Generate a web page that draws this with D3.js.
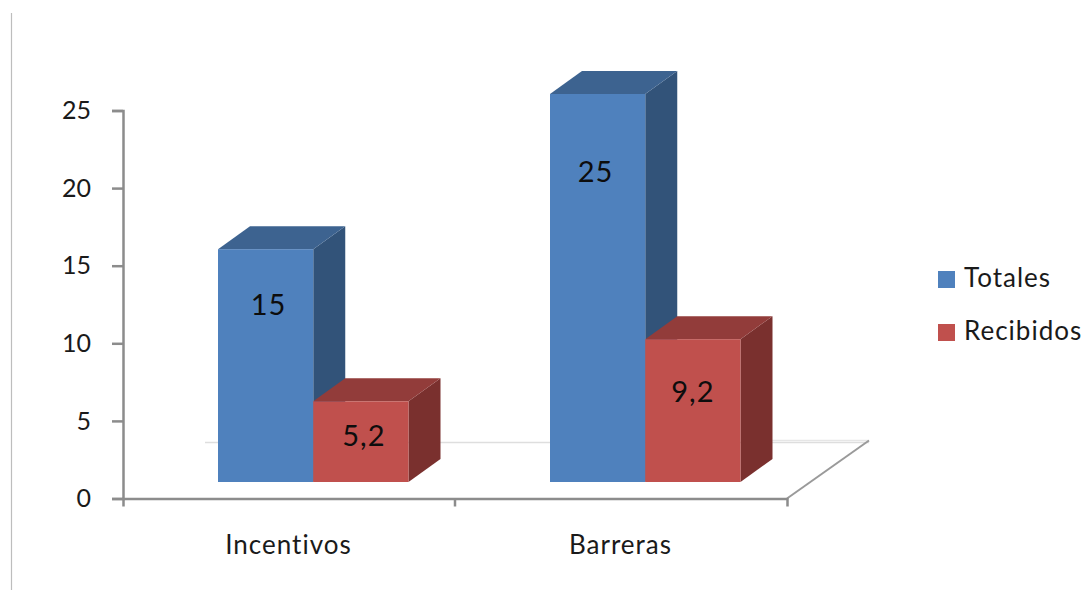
<!DOCTYPE html>
<html>
<head>
<meta charset="utf-8">
<script src="https://cdnjs.cloudflare.com/ajax/libs/d3/7.8.5/d3.min.js"></script>
<style>
  html, body { margin: 0; padding: 0; background: #fff; }
  svg { display: block; }
  text { font-family: Lato, "Open Sans", sans-serif; fill: #1a1a1a; }
  .domain, .tick line { stroke: #8c8c8c; }
</style>
</head>
<body>
<div id="chart"></div>
<script>
const categories = ["Incentivos", "Barreras"];
const seriesNames = ["Totales", "Recibidos"];
const totales = [15, 25];
const recibidos = [5.2, 9.2];
const valueLabels = [["15", "25"], ["5,2", "9,2"]];
const yTicks = [0, 5, 10, 15, 20, 25];

const width = 1084, height = 590;

// front, top and side shades for each series
const fills = [
  { front: "#4f81bd", top: "#3d6390", side: "#325379" },
  { front: "#c0504d", top: "#923c3a", side: "#7a302e" }
];

// oblique projection used for the 3D look
const depthX = 32, depthY = -23;
const baseLift = 16.5;

const svg = d3.select("#chart").append("svg")
  .attr("width", width)
  .attr("height", height);

const x = d3.scaleBand().domain(categories).range([123, 787]);
const y = d3.scaleLinear().domain([0, 25]).range([498.5, 110.5]);
const inner = d3.scaleBand().domain(seriesNames).range([95, 285.5]);

// page rule on the left
svg.append("line")
  .attr("x1", 11.5).attr("x2", 11.5)
  .attr("y1", 13).attr("y2", height)
  .attr("stroke", "#bdbdbd").attr("stroke-width", 1.2);

// floor of the 3D plot
const floorRight = x.range()[1], floorY = y(0);
const backLeft = x.range()[0] + 82, backRight = floorRight + 82, backY = floorY - 56;
svg.append("line")
  .attr("x1", backLeft).attr("x2", backRight)
  .attr("y1", backY).attr("y2", backY)
  .attr("stroke", "#dedede").attr("stroke-width", 1.5);
svg.append("line")
  .attr("x1", backRight - 100).attr("x2", backRight)
  .attr("y1", backY - 2).attr("y2", backY - 2)
  .attr("stroke", "#e6e6e6").attr("stroke-width", 1.5);
svg.append("line")
  .attr("x1", floorRight).attr("x2", backRight)
  .attr("y1", floorY).attr("y2", backY - 2)
  .attr("stroke", "#9a9a9a").attr("stroke-width", 2);

// axes
const yAxis = svg.append("g")
  .attr("transform", `translate(${x.range()[0]},0)`)
  .call(d3.axisLeft(y).tickValues(yTicks).tickSize(11).tickSizeOuter(11).tickPadding(21));
yAxis.selectAll(".domain, .tick line").attr("stroke-width", 2.5);
yAxis.selectAll("text").style("font-size", "25px").attr("dy", "0.33em");

const xAxis = svg.append("g")
  .attr("transform", `translate(0,${y(0)})`)
  .call(d3.axisBottom(x).tickValues([]).tickSize(8).tickSizeOuter(8));
xAxis.select(".domain").attr("stroke-width", 2.5);
xAxis.selectAll(".mid")
  .data([x("Barreras")])
  .enter().append("line")
  .attr("class", "mid")
  .attr("x1", d => d).attr("x2", d => d)
  .attr("y1", 0).attr("y2", 8)
  .attr("stroke", "#8c8c8c").attr("stroke-width", 2.5);

svg.selectAll(".cat")
  .data(categories)
  .enter().append("text")
  .attr("class", "cat")
  .attr("x", d => x(d) + x.bandwidth() / 2 - 0.5)
  .attr("y", 554)
  .attr("text-anchor", "middle")
  .style("font-size", "26px")
  .style("letter-spacing", "1px")
  .text(d => d);

// bars, Totales first so Recibidos overlaps its side face
const rows = [totales, recibidos];
rows.forEach((values, s) => {
  const g = svg.append("g").attr("class", "series");
  values.forEach((v, c) => {
    const x0 = x(categories[c]) + inner(seriesNames[s]);
    const x1 = x0 + inner.bandwidth();
    const bottom = y(0) - baseLift;
    const top = y(v) - baseLift;

    g.append("polygon")
      .attr("points", [[x1, top], [x1 + depthX, top + depthY], [x1 + depthX, bottom + depthY], [x1, bottom]].join(" "))
      .attr("fill", fills[s].side);
    g.append("polygon")
      .attr("points", [[x0, top], [x0 + depthX, top + depthY], [x1 + depthX, top + depthY], [x1, top]].join(" "))
      .attr("fill", fills[s].top);
    g.append("rect")
      .attr("x", x0).attr("y", top)
      .attr("width", x1 - x0).attr("height", bottom - top)
      .attr("fill", fills[s].front);
  });
});

// value labels sit on top of every bar
const labelY = [[305, 172], [436, 392]];
const labelShift = [[3, -2], [3, 0]];
rows.forEach((values, s) => {
  values.forEach((v, c) => {
    svg.append("text")
      .attr("x", x(categories[c]) + inner(seriesNames[s]) + inner.bandwidth() / 2 + labelShift[s][c])
      .attr("y", labelY[s][c])
      .attr("dy", "0.36em")
      .attr("text-anchor", "middle")
      .style("font-size", "29px")
      .style("letter-spacing", "1px")
      .style("fill", "#0d0d0d")
      .text(valueLabels[s][c]);
  });
});

// legend
const legend = svg.selectAll(".legend")
  .data(seriesNames)
  .enter().append("g")
  .attr("class", "legend")
  .attr("transform", (d, i) => `translate(938,${271 + i * 53})`);
legend.append("rect")
  .attr("width", 17).attr("height", 17)
  .attr("fill", (d, i) => fills[i].front);
legend.append("text")
  .attr("x", 26).attr("y", 16)
  .style("font-size", "26px")
  .style("letter-spacing", "1px")
  .text(d => d);
</script>
</body>
</html>
